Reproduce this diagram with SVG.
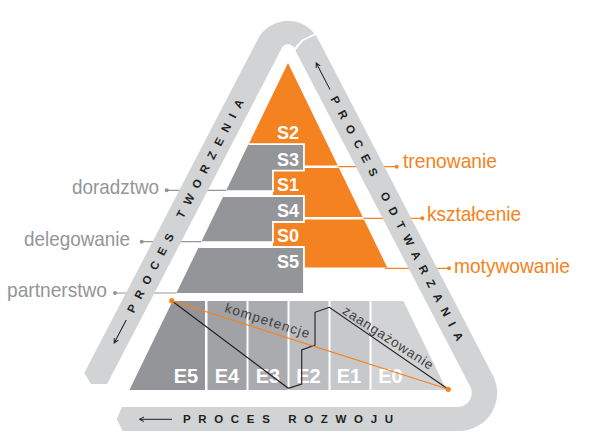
<svg xmlns="http://www.w3.org/2000/svg" width="598" height="435" viewBox="0 0 598 435">
<style>
.band{fill:#d1d3d4}
.btxt{font-family:"Liberation Sans",Arial,sans-serif;font-weight:bold;font-size:11.5px;fill:#231f20}
.arr{fill:none;stroke:#231f20;stroke-width:1}
.gray{fill:#939598;stroke:#fff;stroke-width:1.8}
.org{fill:#f58220}
.slab{font-family:"Liberation Sans",Arial,sans-serif;font-weight:bold;font-size:18px;fill:#fff;text-anchor:middle}
.elab{font-family:"Liberation Sans",Arial,sans-serif;font-weight:bold;font-size:20px;fill:#fff;text-anchor:middle}
.ltxt{font-family:"Liberation Sans",Arial,sans-serif;font-size:21px;fill:#939598}
.rtxt{font-family:"Liberation Sans",Arial,sans-serif;font-size:21px;fill:#f58220}
.gl{stroke:#939598;stroke-width:1.2;fill:none}
.ol{stroke:#f58220;stroke-width:1.2;fill:none}
.gd{fill:#939598}
.od{fill:#f58220}
.itxt{font-family:"Liberation Sans",Arial,sans-serif;font-size:13.5px;fill:#414042}
</style>
<defs>
<clipPath id="pyr"><polygon points="288,63 399.6,293 176.4,293"/></clipPath>
</defs>
<rect width="598" height="435" fill="#fff"/>

<g id="connectors">
<line class="gl" x1="166.7" y1="190.3" x2="226.4" y2="190.3"/>
<line class="gl" x1="141.7" y1="241.7" x2="201.4" y2="241.7"/>
<line class="gl" x1="115" y1="293" x2="176.5" y2="293"/>
<circle class="gd" cx="166.7" cy="190.3" r="2"/>
<circle class="gd" cx="141.7" cy="241.7" r="2"/>
<circle class="gd" cx="115" cy="293" r="2"/>
<line class="ol" x1="338.3" y1="166.7" x2="396.7" y2="166.7"/>
<line class="ol" x1="363.3" y1="218.3" x2="422.3" y2="218.3"/>
<line class="ol" x1="385" y1="268.3" x2="449" y2="268.3"/>
<circle class="od" cx="396.7" cy="166.7" r="2"/>
<circle class="od" cx="422.3" cy="218.3" r="2"/>
<circle class="od" cx="449" cy="268.3" r="2"/>
</g>

<g id="pyramid-e">
<polygon points="172.6,301 205,301 205,390 129.4,390" fill="#939598"/>
<rect x="207.5" y="301" width="39" height="89" fill="#a0a2a5"/>
<rect x="248.5" y="301" width="39" height="89" fill="#a9abae"/>
<rect x="289.5" y="301" width="39" height="89" fill="#bbbdc0"/>
<rect x="330.5" y="301" width="39" height="89" fill="#c6c8ca"/>
<polygon points="371.5,301 403.4,301 446.6,390 371.5,390" fill="#d1d3d4"/>
<text class="elab" x="186" y="383">E5</text>
<text class="elab" x="227" y="383">E4</text>
<text class="elab" x="268" y="383">E3</text>
<text class="elab" x="308.5" y="383">E2</text>
<text class="elab" x="349" y="383">E1</text>
<text class="elab" x="390.5" y="383">E0</text>
</g>

<g id="e-lines">
<polyline points="171.7,300.7 288.3,388.3 301.7,384 301.7,350 315,345 315,312.3 329.3,307.3 448.3,389.3" fill="none" stroke="#231f20" stroke-width="1.1"/>
<line x1="171.7" y1="300.7" x2="448.3" y2="389.3" stroke="#f58220" stroke-width="1.2"/>
<circle class="od" cx="171.7" cy="300.7" r="2.6"/>
<circle class="od" cx="448.3" cy="389.3" r="2.6"/>
<text class="itxt" transform="translate(224,311.7) rotate(17.5)" textLength="88">kompetencje</text>
<text class="itxt" transform="translate(341.5,313) rotate(33)" textLength="105">zaangażowanie</text>
</g>

<g id="pyramid-s" clip-path="url(#pyr)">
<g id="s-orange">
<path class="org" d="M0,0 H600 V165.5 H0 Z"/>
<path class="org" d="M273,167.9 H600 V217.1 H273 Z"/>
<path class="org" d="M273,219.5 H600 V267.6 H273 Z"/>
</g>
<g id="s-gray">
<path class="gray" d="M100,144.2 H304 V170.6 H273 V191.2 H100 Z"/>
<path class="gray" d="M100,196 H304 V222 H273 V242.2 H100 Z"/>
<path class="gray" d="M100,247 H304 V300 H100 Z"/>
</g>
</g>
<g id="s-labels">
<text class="slab" x="288" y="138.6">S2</text>
<text class="slab" x="288" y="166">S3</text>
<text class="slab" x="288" y="191">S1</text>
<text class="slab" x="288" y="217">S4</text>
<text class="slab" x="288" y="242">S0</text>
<text class="slab" x="288" y="268">S5</text>
</g>

<g id="band">
<path id="band-tworzenia" class="band" d="M84.3,373 L91,384 L107.1,384 L281.8,48.1 A7,7 0 0 1 294.2,48.1 L302,39.5 L314.5,33.5 A34,34 0 0 0 257.8,39.3 Z"/>
<path id="band-odtwarzania" class="band" d="M295.4,50.5 L303,41 L315.6,35 A34,34 0 0 1 318.2,39.3 L492.9,375.5 A38,38 0 0 1 459.2,431 L122.7,431 L116.7,419 L122,407 L457.8,407 A14,14 0 0 0 470.2,386.6 Z"/>
<text class="btxt" transform="translate(130.3,312) rotate(-62.5)" y="4" textLength="239">PROCES TWORZENIA</text>
<text class="btxt" transform="translate(333.9,97) rotate(62.5)" y="4" textLength="274">PROCES ODTWARZANIA</text>
<text class="btxt" x="183" y="423.3" textLength="210">PROCES ROZWOJU</text>
<path class="arr" transform="translate(114.2,343) rotate(-62.5)" d="M0,0 H26 M4.5,-2.3 L0,0 L4.5,2.3"/>
<path class="arr" transform="translate(316.2,63) rotate(62.5)" d="M0,0 H30 M4.5,-2.3 L0,0 L4.5,2.3"/>
<path class="arr" d="M139.5,419.3 H172 M144,417 L139.5,419.3 L144,421.6"/>
</g>

<g id="labels">
<text class="ltxt" x="72" y="194.3" textLength="87" lengthAdjust="spacingAndGlyphs">doradztwo</text>
<text class="ltxt" x="24" y="246" textLength="106" lengthAdjust="spacingAndGlyphs">delegowanie</text>
<text class="ltxt" x="7" y="296.7" textLength="100" lengthAdjust="spacingAndGlyphs">partnerstwo</text>
<text class="rtxt" x="403" y="168.3" textLength="94" lengthAdjust="spacingAndGlyphs">trenowanie</text>
<text class="rtxt" x="427" y="220.7" textLength="94" lengthAdjust="spacingAndGlyphs">kształcenie</text>
<text class="rtxt" x="454" y="272.7" textLength="116" lengthAdjust="spacingAndGlyphs">motywowanie</text>
</g>
</svg>
